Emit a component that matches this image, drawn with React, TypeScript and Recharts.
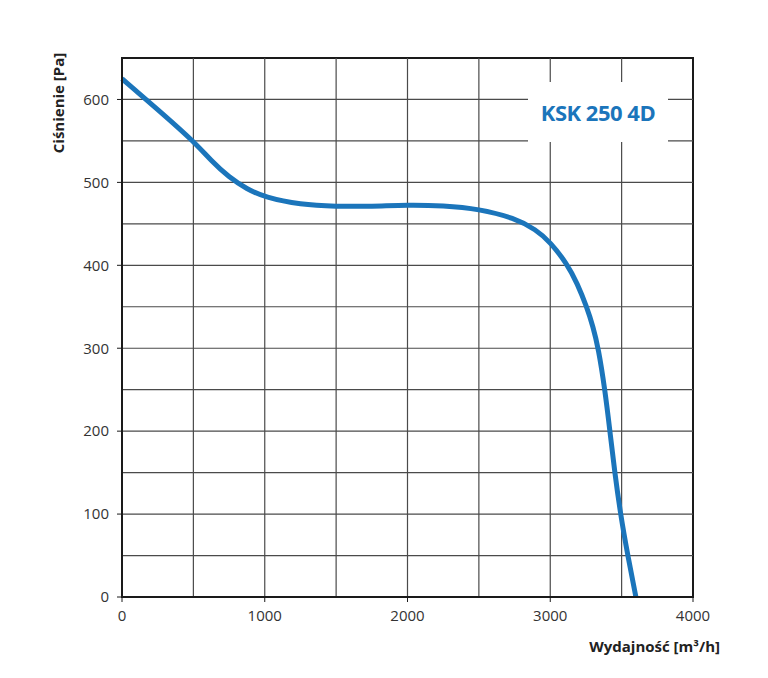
import { LineChart, Line, XAxis, YAxis, ReferenceLine, ReferenceArea } from 'recharts';

const FLOW     = [0, 250, 500, 625, 750, 875, 1000, 1250, 1500, 1750, 2000, 2250, 2500, 2750, 2900, 3000, 3117, 3190, 3255, 3300, 3337, 3383, 3418, 3452, 3492, 3543, 3600];
const PRESSURE = [625, 588, 550, 526, 506, 492, 482, 473, 471, 471, 473, 472, 468, 457, 443, 428, 402, 378, 350, 326, 300, 250, 200, 150, 100, 50, 0];

const X_TICKS = [0, 1000, 2000, 3000, 4000];
const Y_TICKS = [0, 100, 200, 300, 400, 500, 600];
const X_GRID  = [500, 1000, 1500, 2000, 2500, 3000, 3500];
const Y_GRID  = [50, 100, 150, 200, 250, 300, 350, 400, 450, 500, 550, 600];

const BLUE = '#1b75bb';
const GRID = '#4a4a4a';
const FONT = '"Open Sans", "Noto Sans", sans-serif';

const data = FLOW.map((q, i) => ({ q, p: PRESSURE[i] }));

export default function App() {
  const tick = { fill: '#333', fontSize: 15, fontFamily: FONT };

  return (
    <div style={{ position: 'absolute', left: 0, top: 0, width: 768, height: 678, background: '#fff' }}>
      <LineChart width={768} height={678} data={data} margin={{ top: 58, right: 75, bottom: 51, left: 60 }}>
        <XAxis
          dataKey="q" type="number" domain={[0, 4000]} ticks={X_TICKS}
          tick={tick} tickSize={5} tickMargin={8} height={30}
          axisLine={{ stroke: '#1a1a1a', strokeWidth: 2 }} tickLine={{ stroke: '#1a1a1a' }}
        />
        <YAxis
          type="number" domain={[0, 650]} ticks={Y_TICKS} width={62}
          tick={tick} tickSize={5} tickMargin={8}
          axisLine={{ stroke: '#1a1a1a', strokeWidth: 2 }} tickLine={{ stroke: '#1a1a1a' }}
        />
        {X_GRID.map((v) => (
          <ReferenceLine key={'x' + v} x={v} stroke={GRID} strokeWidth={1.2} />
        ))}
        {Y_GRID.map((v) => (
          <ReferenceLine key={'y' + v} y={v} stroke={GRID} strokeWidth={1.2} />
        ))}
        <ReferenceArea x1={0} x2={4000} y1={0} y2={650} fill="none" stroke="#1a1a1a" strokeWidth={2} />
        <Line dataKey="p" type="basis" stroke={BLUE} strokeWidth={5} dot={false} isAnimationActive={false} />
      </LineChart>

      <div style={{
        position: 'absolute', left: 528, top: 82, width: 140, height: 60, background: '#fff',
        display: 'flex', alignItems: 'center', justifyContent: 'center',
        color: BLUE, fontFamily: FONT, fontWeight: 700, fontSize: 22, letterSpacing: -0.5,
      }}>
        KSK 250 4D
      </div>

      <div style={{
        position: 'absolute', left: 58, top: 103, transform: 'translate(-50%, -50%) rotate(-90deg)',
        whiteSpace: 'nowrap', fontFamily: FONT, fontWeight: 700, fontSize: 15, color: '#222',
      }}>
        Ciśnienie [Pa]
      </div>

      <div style={{
        position: 'absolute', right: 48, top: 636, whiteSpace: 'nowrap',
        fontFamily: FONT, fontWeight: 700, fontSize: 15, color: '#222',
      }}>
        Wydajność [m³/h]
      </div>
    </div>
  );
}
